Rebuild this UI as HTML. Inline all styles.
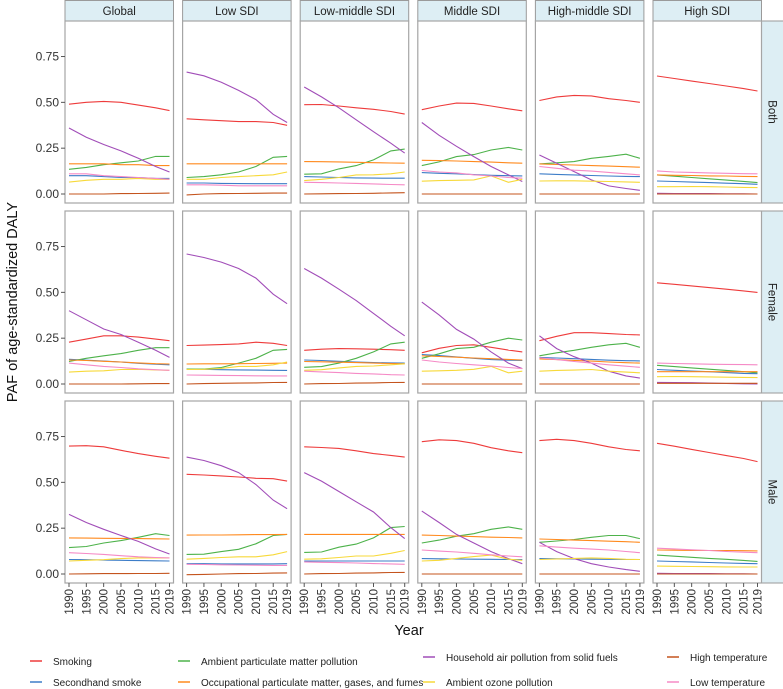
<!DOCTYPE html>
<html><head><meta charset="utf-8"><style>
body{margin:0;background:#fff;}
svg{display:block;font-family:"Liberation Sans",sans-serif;}
</style></head><body>
<svg id="chart" width="783" height="689" viewBox="0 0 783 689"></svg>
<script>
const years=[1990,1995,2000,2005,2010,2015,2019];
const columns=["Global","Low SDI","Low-middle SDI","Middle SDI","High-middle SDI","High SDI"];
const rowsLab=["Both","Female","Male"];
const yTicks=[0,0.25,0.5,0.75];
const yTickLabels=["0.00","0.25","0.50","0.75"];
const xTicks=[1990,1995,2000,2005,2010,2015,2019];
const seriesNames=["Smoking","Secondhand smoke","Ambient particulate matter pollution","Occupational particulate matter, gases, and fumes","Household air pollution from solid fuels","Ambient ozone pollution","High temperature","Low temperature"];
const seriesColors=["#EE3B3B","#3D7DC8","#4DB24A","#FF8A1E","#A14DB8","#F7D93A","#C4541E","#F58AC6"];
// panel order: Both(6), Female(6), Male(6)
const smoking=[[.49,.50,.505,.50,.485,.47,.455],[.41,.405,.40,.395,.395,.39,.375],[.487,.488,.48,.47,.462,.45,.436],[.46,.48,.496,.494,.48,.465,.454],[.51,.53,.538,.535,.52,.51,.50],[.644,.63,.616,.603,.589,.575,.562],
[.228,.245,.263,.263,.256,.245,.236],[.21,.212,.215,.219,.228,.222,.21],[.184,.19,.193,.192,.19,.187,.184],[.17,.195,.21,.214,.20,.185,.175],[.236,.26,.28,.28,.275,.27,.268],[.552,.544,.535,.526,.517,.508,.50],
[.698,.70,.694,.675,.657,.642,.632],[.544,.54,.535,.529,.522,.52,.507],[.694,.69,.685,.672,.657,.647,.638],[.722,.732,.728,.713,.689,.672,.662],[.728,.735,.728,.713,.694,.679,.672],[.713,.697,.680,.663,.646,.63,.613]];
const secondhand=[[.10,.10,.095,.09,.09,.085,.085],[.06,.06,.058,.057,.056,.056,.056],[.095,.093,.09,.088,.087,.086,.086],[.117,.113,.11,.106,.102,.10,.099],[.11,.107,.104,.101,.098,.096,.095],[.071,.068,.065,.062,.059,.056,.053],
[.135,.13,.125,.12,.113,.108,.105],[.082,.08,.078,.077,.076,.075,.074],[.131,.128,.124,.12,.117,.115,.114],[.161,.155,.148,.14,.133,.13,.128],[.145,.142,.138,.134,.13,.127,.126],[.079,.075,.071,.067,.062,.058,.056],
[.079,.078,.076,.075,.073,.072,.071],[.056,.056,.055,.055,.055,.055,.056],[.071,.071,.071,.071,.071,.071,.071],[.084,.083,.082,.081,.08,.079,.079],[.084,.083,.082,.081,.08,.079,.079],[.071,.068,.066,.063,.06,.058,.056]];
const ambientPM=[[.135,.145,.16,.17,.18,.205,.205],[.09,.095,.105,.12,.15,.20,.205],[.108,.11,.137,.155,.186,.235,.245],[.155,.175,.204,.215,.24,.254,.24],[.164,.17,.177,.195,.205,.217,.195],[.104,.097,.09,.083,.076,.069,.062],
[.123,.14,.154,.166,.184,.198,.198],[.082,.082,.09,.114,.14,.184,.189],[.091,.095,.114,.14,.175,.219,.228],[.14,.165,.193,.20,.228,.25,.24],[.154,.17,.184,.20,.214,.222,.20],[.102,.095,.088,.081,.074,.067,.061],
[.144,.15,.169,.182,.20,.22,.21],[.107,.108,.122,.135,.165,.21,.216],[.118,.12,.146,.163,.197,.253,.259],[.169,.185,.206,.22,.244,.257,.244],[.173,.18,.188,.20,.21,.21,.193],[.103,.097,.091,.085,.08,.074,.069]];
const occupational=[[.165,.165,.165,.16,.16,.155,.155],[.165,.165,.165,.165,.165,.165,.165],[.177,.176,.175,.173,.171,.169,.168],[.184,.182,.18,.177,.174,.17,.168],[.164,.161,.158,.155,.152,.149,.146],[.104,.102,.101,.099,.098,.096,.095],
[.131,.128,.124,.12,.115,.111,.109],[.109,.11,.11,.111,.112,.113,.114],[.123,.121,.119,.117,.114,.112,.11],[.154,.15,.146,.142,.138,.134,.131],[.137,.133,.129,.125,.12,.116,.114],[.067,.067,.067,.067,.067,.067,.067],
[.197,.196,.195,.194,.193,.192,.191],[.212,.213,.213,.214,.215,.215,.216],[.216,.216,.216,.216,.216,.216,.216],[.212,.21,.207,.204,.201,.199,.197],[.191,.188,.185,.182,.179,.176,.173],[.131,.13,.129,.128,.128,.127,.126]];
const household=[[.36,.31,.27,.235,.195,.15,.12],[.665,.645,.61,.565,.515,.435,.39],[.584,.53,.47,.405,.34,.277,.223],[.39,.32,.26,.204,.15,.104,.068],[.213,.168,.122,.077,.044,.03,.02],[.004,.003,.003,.002,.001,.001,0],
[.40,.35,.30,.27,.228,.184,.145],[.709,.69,.665,.63,.578,.49,.438],[.63,.578,.517,.455,.385,.315,.263],[.447,.377,.298,.245,.175,.114,.084],[.263,.193,.149,.114,.07,.044,.032],[.009,.008,.007,.005,.003,.001,0],
[.325,.281,.244,.21,.178,.137,.109],[.638,.619,.591,.553,.488,.403,.356],[.553,.507,.45,.394,.338,.253,.193],[.343,.281,.216,.169,.122,.084,.056],[.173,.122,.084,.056,.038,.024,.015],[.004,.003,.003,.002,.001,.001,0]];
const ozone=[[.065,.075,.08,.08,.085,.08,.08],[.08,.08,.09,.095,.10,.105,.12],[.073,.08,.09,.104,.105,.11,.12],[.07,.073,.075,.077,.099,.064,.08],[.071,.072,.072,.07,.068,.066,.064],[.04,.04,.041,.04,.038,.036,.035],
[.065,.07,.072,.079,.08,.077,.075],[.079,.08,.085,.096,.096,.105,.12],[.075,.078,.088,.096,.098,.105,.11],[.07,.072,.075,.08,.096,.061,.07],[.07,.074,.076,.079,.07,.065,.061],[.04,.041,.04,.039,.037,.036,.035],
[.071,.075,.078,.084,.088,.088,.088],[.081,.085,.09,.094,.094,.105,.122],[.081,.083,.09,.098,.098,.113,.128],[.071,.075,.085,.095,.103,.081,.075],[.079,.082,.085,.088,.085,.08,.079],[.043,.042,.041,.04,.039,.038,.038]];
const highTemp=[[0,0,0,.002,.003,.004,.005],[-.005,0,.002,.003,.004,.005,.005],[0,.001,.002,.003,.004,.006,.007],[0,0,0,0,0,0,0],[0,0,0,0,0,0,0],[0,0,0,0,0,0,0],
[0,0,0,0,.001,.002,.002],[0,.002,.004,.005,.006,.008,.009],[0,.002,.003,.005,.006,.008,.009],[0,0,0,0,0,0,0],[0,0,0,0,0,0,0],[.004,.004,.004,.004,.004,.004,.004],
[0,.001,.002,.002,.003,.003,.004],[-.004,-.002,0,.002,.003,.005,.006],[0,.002,.003,.005,.006,.008,.009],[0,0,0,0,0,0,0],[0,0,0,0,0,0,0],[0,0,0,0,0,0,0]];
const lowTemp=[[.11,.11,.10,.095,.09,.085,.08],[.05,.05,.048,.045,.045,.045,.045],[.064,.062,.06,.058,.055,.052,.05],[.128,.12,.115,.105,.098,.09,.086],[.15,.14,.13,.125,.118,.11,.104],[.126,.12,.118,.115,.113,.111,.11],
[.114,.105,.096,.09,.083,.078,.075],[.049,.048,.047,.046,.045,.044,.044],[.07,.066,.062,.058,.055,.051,.049],[.131,.12,.112,.105,.098,.09,.084],[.143,.133,.123,.114,.105,.097,.091],[.114,.112,.11,.108,.107,.106,.105],
[.116,.112,.107,.1,.094,.09,.088],[.053,.052,.05,.049,.048,.047,.047],[.066,.064,.062,.06,.057,.055,.053],[.131,.125,.12,.113,.105,.098,.094],[.154,.147,.141,.136,.131,.123,.116],[.141,.137,.132,.128,.123,.119,.116]];
const allSeries=[smoking,secondhand,ambientPM,occupational,household,ozone,highTemp,lowTemp];

const NS="http://www.w3.org/2000/svg";
const svg=document.getElementById('chart');
function mk(tag,attrs,parent){const e=document.createElementNS(NS,tag);for(const k in attrs)e.setAttribute(k,attrs[k]);(parent||svg).appendChild(e);return e;}
const colX0=65, colPitch=117.6, panelW=108.5, rowY0=[21,211,401], panelH=182;
function xScale(c,yr){return colX0+c*colPitch+4+(yr-1990)/(2019-1990)*100.5;}
function yScale(r,v){return rowY0[r]+panelH-9-v*183.3;}

columns.forEach((name,c)=>{
  const x=colX0+c*colPitch;
  const g=mk('g',{});
  
  
  mk('rect',{x:x,y:0.5,width:panelW,height:20.5,fill:'#DDEEF4',stroke:'#9a9a9a','stroke-width':1},g);
  const t=mk('text',{x:x+panelW/2,y:15,'text-anchor':'middle','font-size':11.5,fill:'#222'},g);t.textContent=name;
});
rowsLab.forEach((name,r)=>{
  const g=mk('g',{});
  
  
  mk('rect',{x:colX0+5*colPitch+panelW,y:rowY0[r],width:783-(colX0+5*colPitch+panelW)+2,height:panelH,fill:'#DDEEF4',stroke:'#9a9a9a','stroke-width':1},g);
  const cx=colX0+5*colPitch+panelW+10, cy=rowY0[r]+panelH/2;
  const t=mk('text',{x:cx,y:cy,'text-anchor':'middle','font-size':11.5,fill:'#222',transform:`rotate(90 ${cx} ${cy})`,'dominant-baseline':'central'},g);t.textContent=name;
});
for(let r=0;r<3;r++){for(let c=0;c<6;c++){
  const x=colX0+c*colPitch, y=rowY0[r];
  const p=mk('rect',{x:x,y:y,width:panelW,height:panelH,fill:'#fff',stroke:'#a5a5a5','stroke-width':1.2});
  
  
  const idx=r*6+c;
  allSeries.forEach((ser,s)=>{
    const vals=ser[idx];
    const pts=years.map((yr,i)=>xScale(c,yr).toFixed(1)+','+yScale(r,vals[i]).toFixed(1)).join(' ');
    const pl=mk('polyline',{points:pts,fill:'none',stroke:seriesColors[s],'stroke-width':1.1});
    
    
  });
}}
for(let r=0;r<3;r++){
  yTicks.forEach((v,i)=>{
    const yy=yScale(r,v);
    mk('line',{x1:colX0-4,x2:colX0,y1:yy,y2:yy,stroke:'#555','stroke-width':1});
    const t=mk('text',{x:colX0-6,y:yy+4,'text-anchor':'end','font-size':12,fill:'#333'});
    
    
    t.textContent=yTickLabels[i];
  });
}
for(let c=0;c<6;c++){
  xTicks.forEach(yr=>{
    const xx=xScale(c,yr), yb=rowY0[2]+panelH;
    mk('line',{x1:xx,x2:xx,y1:yb,y2:yb+4,stroke:'#555','stroke-width':1});
    const t=mk('text',{x:xx+4,y:yb+6,'text-anchor':'end','font-size':11.5,fill:'#333',transform:`rotate(-90 ${xx+4} ${yb+6})`});
    
    
    t.textContent=yr;
  });
}
const xt=mk('text',{x:409,y:635,'text-anchor':'middle','font-size':14.5,fill:'#111'});


xt.textContent='Year';
const yt=mk('text',{x:17,y:302,'text-anchor':'middle','font-size':14.5,fill:'#111',transform:'rotate(-90 17 302)'});


yt.textContent='PAF of age-standardized DALY';
const legPos=[[30,661],[30,682],[178,661],[178,682],[423,657],[423,682],[667,657],[667,682]];
seriesNames.forEach((n,s)=>{
  const [lx,ly]=legPos[s];
  const g=mk('g',{});
  
  
  mk('line',{x1:lx,x2:lx+12,y1:ly,y2:ly,stroke:seriesColors[s],'stroke-width':1.5},g);
  const t=mk('text',{x:lx+23,y:ly+4,'font-size':10,fill:'#222'},g);t.textContent=n;
});
</script>
</body></html>
